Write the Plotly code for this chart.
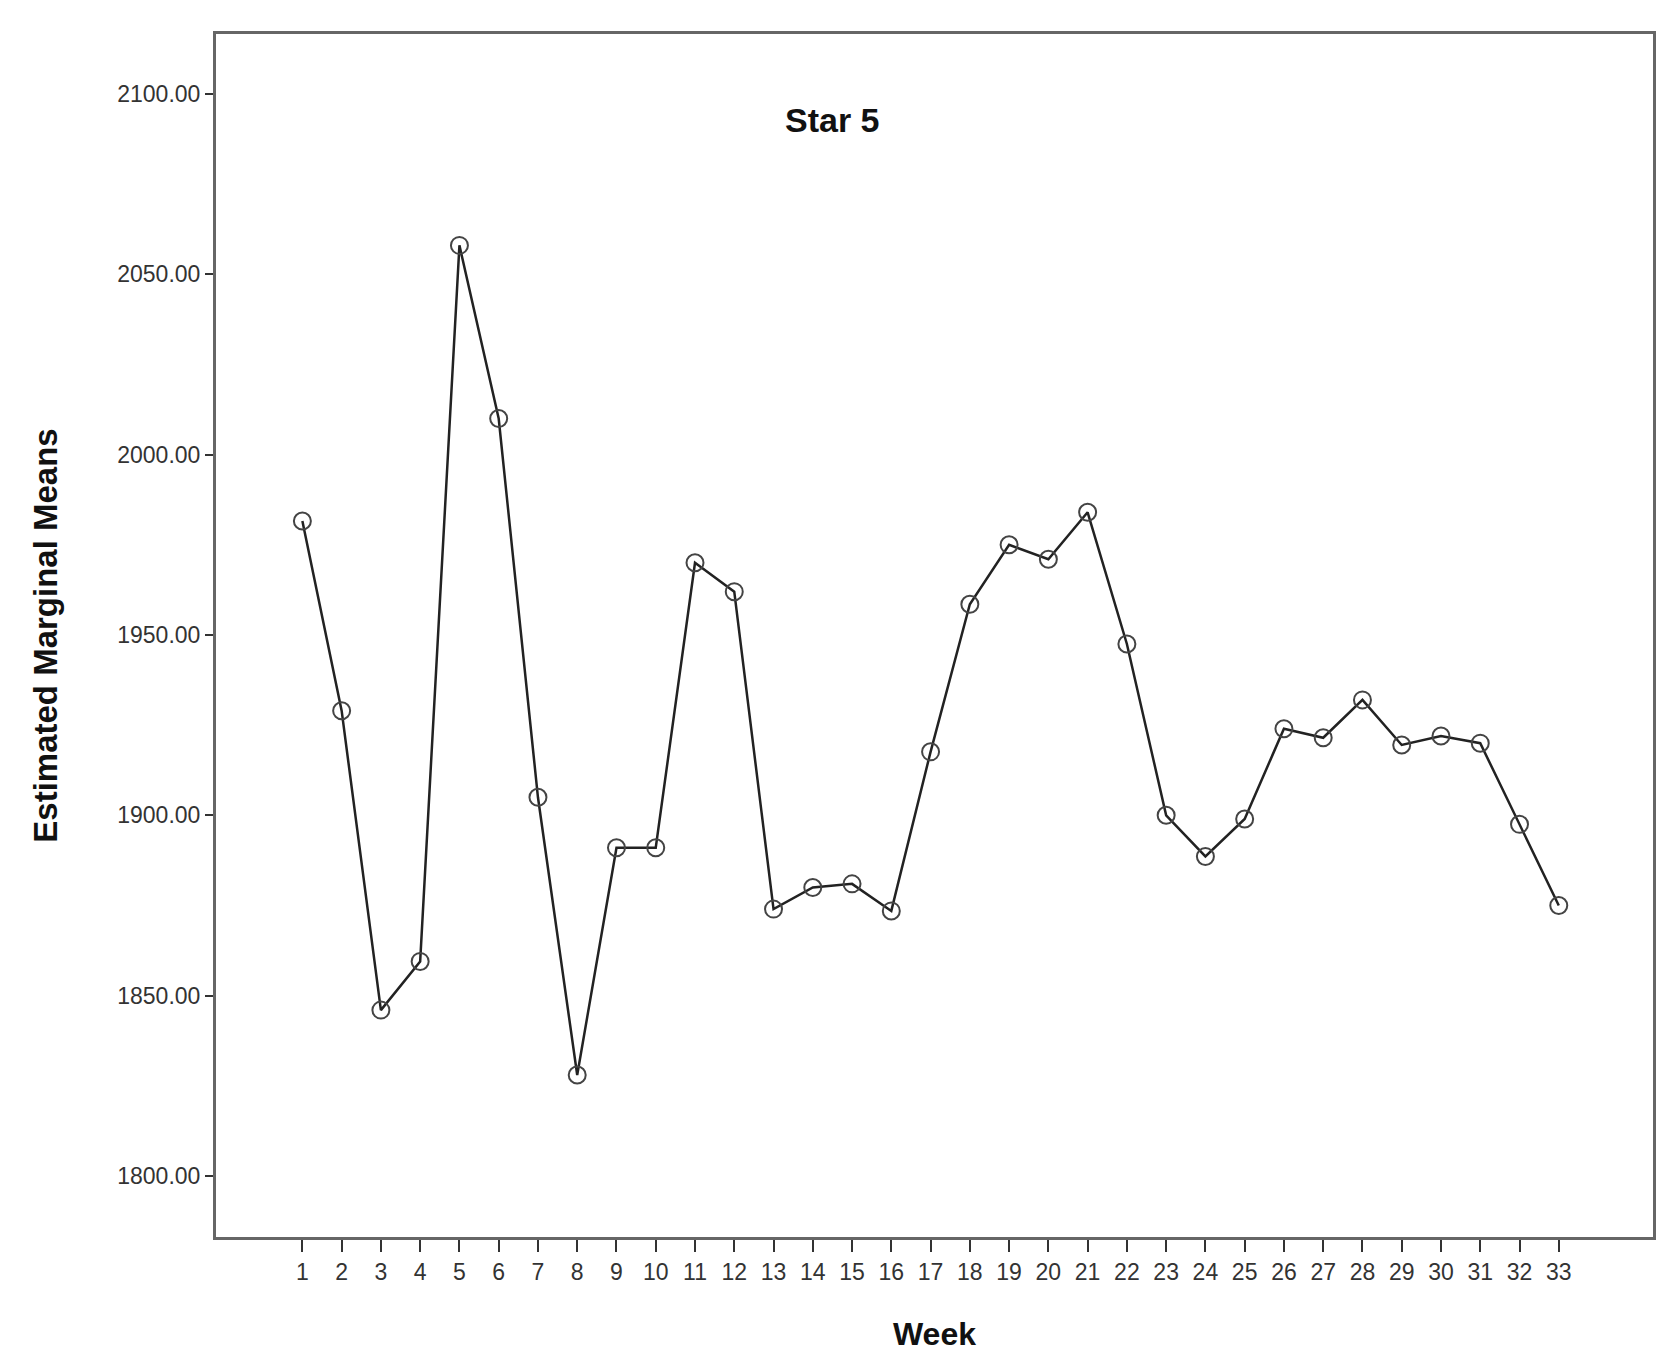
import plotly.graph_objects as go

weeks = list(range(1, 34))
means = [1981.6, 1929, 1846, 1859.5, 2058, 2010, 1905, 1828, 1891, 1891,
         1970, 1962, 1874, 1880, 1881, 1873.5, 1917.6, 1958.5, 1975, 1971,
         1984, 1947.5, 1900, 1888.6, 1899, 1924, 1921.5, 1932, 1919.5, 1922,
         1920, 1897.5, 1875]
yticks = [1800, 1850, 1900, 1950, 2000, 2050, 2100]

fig = go.Figure(go.Scatter(
    x=weeks, y=means, mode="lines+markers",
    line=dict(color="#222", width=2.5),
    marker=dict(symbol="circle-open", size=17, color="#444", line=dict(width=2)),
))
fig.update_layout(
    width=1678, height=1367, paper_bgcolor="white", plot_bgcolor="white",
    margin=dict(l=208, r=33, t=26, b=138), showlegend=False,
    font=dict(family="Liberation Sans, Arial", color="#333"),
    annotations=[dict(text="<b>Star 5</b>", x=(824-208)/1437, y=1-(112-26)/1203,
                      xref="paper", yref="paper", xanchor="center", yanchor="middle",
                      showarrow=False, font=dict(size=34, color="#111"))],
)
fig.update_xaxes(range=[-1.2, 35.4], tickvals=weeks, ticktext=[str(w) for w in weeks],
                 ticks="outside", ticklen=12, tickwidth=2, tickcolor="#333",
                 tickfont=dict(size=23), showgrid=False, zeroline=False,
                 showline=True, linecolor="#666", linewidth=3, mirror=True,
                 title=dict(text="<b>Week</b>", font=dict(size=32, color="#111"), standoff=40))
fig.update_yaxes(range=[1783.1, 2116.6], tickvals=yticks, ticktext=[f"{v:.2f}" for v in yticks],
                 ticks="outside", ticklen=8, tickwidth=2, tickcolor="#333",
                 tickfont=dict(size=23), showgrid=False, zeroline=False,
                 showline=True, linecolor="#666", linewidth=3, mirror=True,
                 title=dict(text="<b>Estimated Marginal Means</b>", font=dict(size=33, color="#111"), standoff=50))
fig.write_html("out.html")
